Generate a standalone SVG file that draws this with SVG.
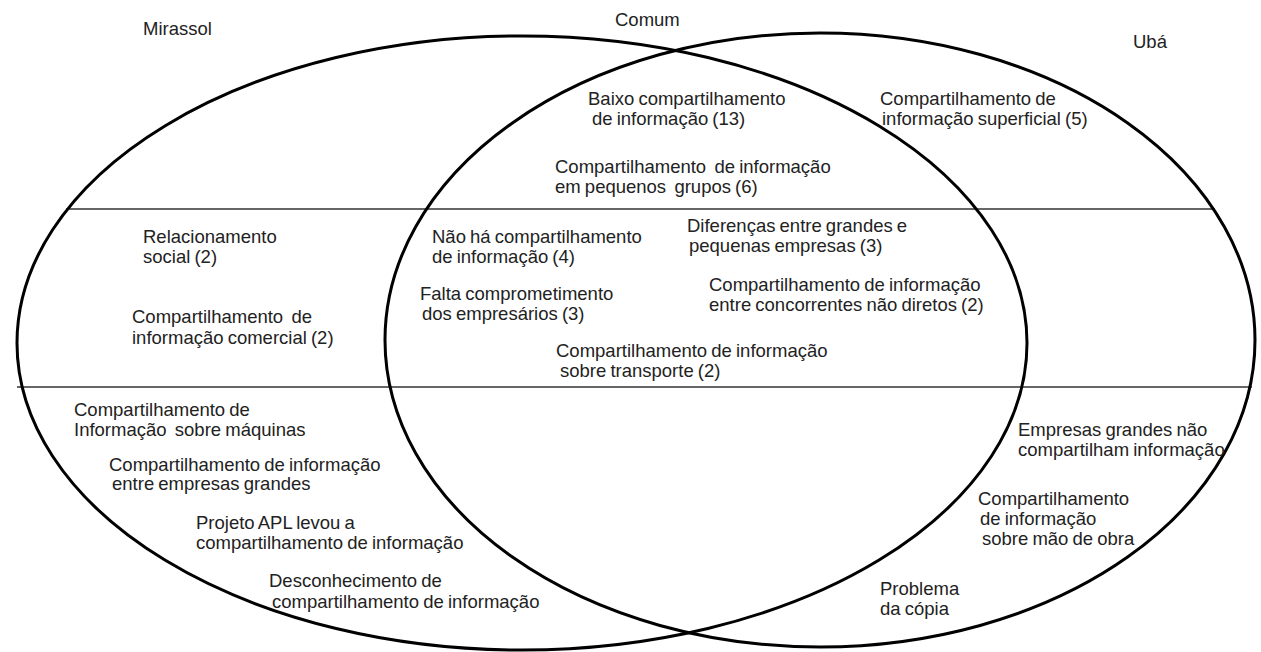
<svg xmlns="http://www.w3.org/2000/svg" width="1261" height="652" viewBox="0 0 1261 652">
<style>
.ell{fill:none;stroke:#000;stroke-width:3}
.div{stroke:#333;stroke-width:1.5}
text{font-family:"Liberation Sans",Arial,sans-serif;font-size:18.5px;word-spacing:-1px;fill:#222}
</style>
<rect width="1261" height="652" fill="#fff"/>
<g id="shapes">
<line class="div" x1="66" y1="209" x2="1215" y2="209"/>
<line class="div" x1="17" y1="387" x2="1252" y2="387"/>
<ellipse id="mirassol-set" class="ell" cx="522" cy="343" rx="505" ry="307"/>
<ellipse id="uba-set" class="ell" cx="820" cy="340" rx="435" ry="307"/>
</g>
<g id="titles">
<text x="143" y="35">Mirassol</text>
<text x="615" y="26">Comum</text>
<text x="1133" y="48">Ubá</text>
</g>
<g id="n1"><text x="588" y="105">Baixo compartilhamento</text><text x="592" y="125">de informação (13)</text></g>
<g id="n2"><text x="555" y="173" xml:space="preserve">Compartilhamento  de informação</text><text x="555" y="193" xml:space="preserve">em pequenos  grupos (6)</text></g>
<g id="n3"><text x="880" y="105">Compartilhamento de</text><text x="882" y="125">informação superficial (5)</text></g>
<g id="n4"><text x="143" y="243">Relacionamento</text><text x="143" y="263">social (2)</text></g>
<g id="n5"><text x="132" y="323" xml:space="preserve">Compartilhamento  de</text><text x="132" y="344">informação comercial (2)</text></g>
<g id="n6"><text x="432" y="243">Não há compartilhamento</text><text x="432" y="263">de informação (4)</text></g>
<g id="n7"><text x="420" y="300">Falta comprometimento</text><text x="422" y="320">dos empresários (3)</text></g>
<g id="n8"><text x="687" y="232">Diferenças entre grandes e</text><text x="689" y="252">pequenas empresas (3)</text></g>
<g id="n9"><text x="709" y="291">Compartilhamento de informação</text><text x="709" y="311">entre concorrentes não diretos (2)</text></g>
<g id="n10"><text x="556" y="357">Compartilhamento de informação</text><text x="560" y="377">sobre transporte (2)</text></g>
<g id="n11"><text x="74" y="416">Compartilhamento de</text><text x="74" y="436" xml:space="preserve">Informação  sobre máquinas</text></g>
<g id="n12"><text x="109" y="471">Compartilhamento de informação</text><text x="112" y="490">entre empresas grandes</text></g>
<g id="n13"><text x="196" y="529">Projeto APL levou a</text><text x="196" y="549">compartilhamento de informação</text></g>
<g id="n14"><text x="269" y="587">Desconhecimento de</text><text x="272" y="608">compartilhamento de informação</text></g>
<g id="n15"><text x="1018" y="436">Empresas grandes não</text><text x="1018" y="456">compartilham informação</text></g>
<g id="n16"><text x="978" y="505">Compartilhamento</text><text x="980" y="525">de informação</text><text x="982" y="545">sobre mão de obra</text></g>
<g id="n17"><text x="880" y="595">Problema</text><text x="880" y="615">da cópia</text></g>
</svg>
